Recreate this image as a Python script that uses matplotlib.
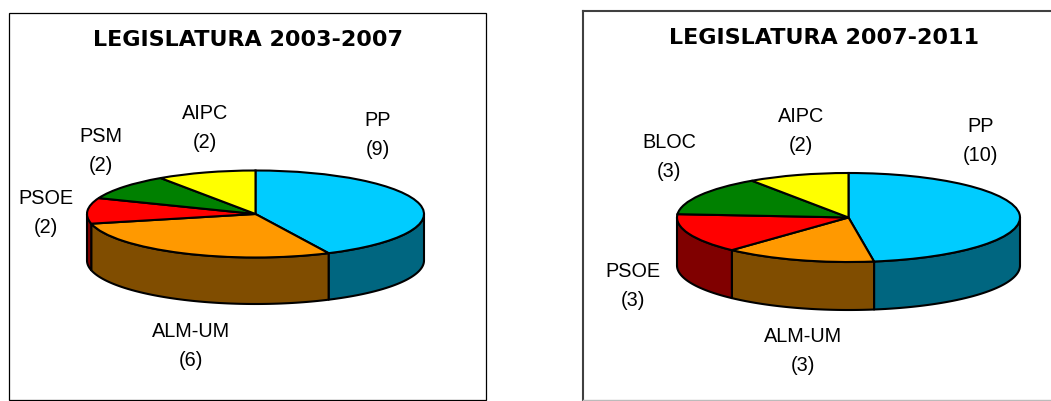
import numpy as np
import matplotlib
matplotlib.use('Agg')
import matplotlib.pyplot as plt
from matplotlib.patches import Rectangle
from matplotlib.lines import Line2D

W, H = 1051, 401

# datos de cada legislatura
partidos_1 = ['PP', 'ALM-UM', 'PSOE', 'PSM', 'AIPC']
concejales_1 = [9, 6, 2, 2, 2]
partidos_2 = ['PP', 'ALM-UM', 'PSOE', 'BLOC', 'AIPC']
concejales_2 = [10, 3, 3, 3, 2]

colores = ['#00CCFF', '#FF9900', '#FF0000', '#008000', '#FFFF00']
colores_lado = ['#006680', '#804D00', '#800000', '#004000', '#808000']


def tarta(cx, cy, rx, ry, fondo, valores, colores, colores_lado):
    # ejes en pixeles alrededor de la tarta, achatados con los limites
    ax = fig.add_axes([(cx - rx) / W, 1 - (cy + ry + fondo) / H,
                       2 * rx / W, (2 * ry + fondo) / H])
    ax.pie(valores, colors=colores, startangle=90, counterclock=False,
           radius=1, wedgeprops={'edgecolor': 'black', 'linewidth': 1.5},
           normalize=True)
    ax.set_aspect('auto')
    prof = fondo / ry
    ax.set_xlim(-1, 1)
    ax.set_ylim(-1 - prof, 1)
    ax.axis('off')
    for p in ax.patches:
        p.set_clip_on(False)
        p.set_zorder(3)

    # pared delantera: solo la parte de cada sector con seno negativo
    fin = 90 - np.cumsum(valores) / np.sum(valores) * 360
    ini = np.r_[90, fin[:-1]]
    for a0, a1, c in zip(ini, fin, colores_lado):
        hi = min(a0, 0)
        lo = max(a1, -180)
        if hi <= lo:
            continue
        t = np.radians(np.linspace(hi, lo, 80))
        x = np.cos(t)
        y = np.sin(t)
        ax.fill(np.r_[x, x[::-1]], np.r_[y, y[::-1] - prof], facecolor=c,
                edgecolor='black', linewidth=1.5, clip_on=False, zorder=2,
                joinstyle='round')


def textos(posiciones, partidos, valores):
    for (x, y), p, v in zip(posiciones, partidos, valores):
        fig.text(x / W, 1 - y / H, p + '\n(' + str(v) + ')', ha='center', va='center',
                 fontsize=14.3, family='Liberation Sans', linespacing=1.72, color='black')


fig = plt.figure(figsize=(W / 100, H / 100), dpi=100, facecolor='white')

# marcos
fig.add_artist(Rectangle((8.5 / W, 1 - 400 / H), 477.5 / W, 387.5 / H, fill=False,
                         edgecolor='black', linewidth=0.9, transform=fig.transFigure))
for xs, ys, c, lw in [((583, 583), (11, 400), '#404040', 1.5),
                      ((583, 1051), (11, 11), '#404040', 1.5),
                      ((583, 1051), (400, 400), '#BBBBBB', 1.0)]:
    fig.add_artist(Line2D([x / W for x in xs], [1 - y / H for y in ys], color=c, linewidth=lw))

tarta(255.5, 214, 168.5, 43.5, 46.5, concejales_1, colores, colores_lado)
tarta(848.5, 217.5, 171.5, 44.5, 48, concejales_2, colores, colores_lado)

fig.text(248 / W, 1 - 40.5 / H, 'LEGISLATURA 2003-2007', ha='center', va='center',
         fontsize=16, fontweight='bold', family='DejaVu Sans')
fig.text(824 / W, 1 - 38.5 / H, 'LEGISLATURA 2007-2011', ha='center', va='center',
         fontsize=16, fontweight='bold', family='DejaVu Sans')

textos([(378, 135), (191, 346), (46, 213), (101, 151), (205, 128)], partidos_1, concejales_1)
textos([(981, 141), (803, 351), (633, 286), (669, 157), (801, 131)], partidos_2, concejales_2)

fig.savefig('out.png', dpi=100)
